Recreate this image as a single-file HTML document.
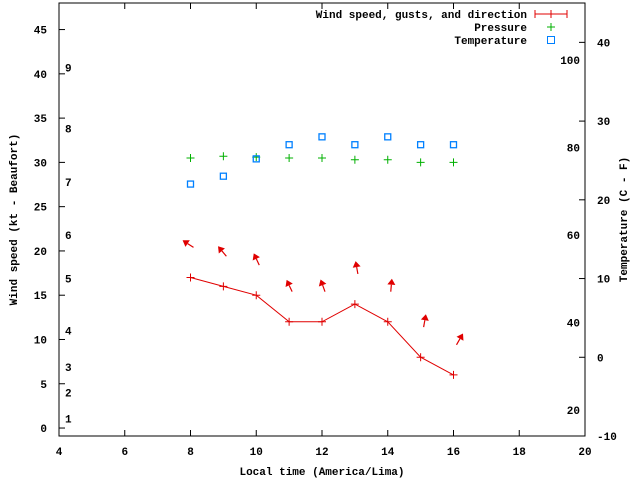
<!DOCTYPE html>
<html><head><meta charset="utf-8"><style>
body{margin:0;background:#fff}
text{font-family:"Liberation Mono",monospace;font-size:11px;font-weight:bold;fill:#000}
</style></head><body>
<svg id="chart" width="640" height="480" xmlns="http://www.w3.org/2000/svg"></svg>
<script>
const hours=[8,9,10,11,12,13,14,15,16];
const windSpeed=[17,16,15,12,12,14,12,8,6];
const pressure=[30.5,30.7,30.6,30.5,30.5,30.3,30.3,30.0,30.0];
const temperature=[22,23,25.2,27,28,27,28,27,27];
const windDir=[303,320,335,335,340,350,5,10,30];
const xTicks=[4,6,8,10,12,14,16,18,20];
const yTicks=[0,5,10,15,20,25,30,35,40,45];
const tTicks=[-10,0,10,20,30,40];
const beaufort=[[1,1.1],[2,4],[3,6.9],[4,11],[5,16.9],[6,21.8],[7,27.8],[8,33.8],[9,40.7]];
const fahr=[100,80,60,40,20];
const L=59,R=585,T=3,B=436;
const X=v=>L+(v-4)*(R-L)/16;
const Y=v=>B-(v+0.9)*(B-T)/48.9;
const TY=v=>B-(v+10)*(B-T)/55;
const svg=document.getElementById('chart');
const NS='http://www.w3.org/2000/svg';
function mk(tag,attrs,parent){const e=document.createElementNS(NS,tag);for(const k in attrs)e.setAttribute(k,attrs[k]);(parent||svg).appendChild(e);return e;}
function txt(s,x,y,anchor,name){const t=mk('text',{x:x,y:y,'text-anchor':anchor||'middle'});t.textContent=s;

return t;}
const frame=mk('rect',{x:L,y:T,width:R-L,height:B-T,fill:'none',stroke:'#000'});


xTicks.forEach(v=>{const x=X(v);
const tk=mk('path',{d:`M${x},${B}v-6M${x},${T}v6`,stroke:'#000'});


txt(String(v),x,B+19,'middle','x-tick-label');});
yTicks.forEach(v=>{const y=Y(v);
const tk=mk('path',{d:`M${L},${y}h6`,stroke:'#000'});


txt(String(v),L-12,y+4,'end','y-tick-label');});
tTicks.forEach(v=>{const y=TY(v);
const tk=mk('path',{d:`M${R},${y}h-6`,stroke:'#000'});


txt(String(v),R+12,y+4,'start','temp-tick-label');});
beaufort.forEach(b=>txt(String(b[0]),65,Y(b[1])+4,'start','beaufort-label'));
fahr.forEach(f=>txt(String(f),580,TY((f-32)*5/9)+4,'end','fahrenheit-label'));
txt('Local time (America/Lima)',(L+R)/2,475,'middle','x-axis-title');
const yt=txt('Wind speed (kt - Beaufort)',0,0,'middle','y-axis-title');yt.setAttribute('transform',`translate(17,${(T+B)/2}) rotate(-90)`);
const tt=txt('Temperature (C - F)',0,0,'middle','temp-axis-title');tt.setAttribute('transform',`translate(627,${(T+B)/2}) rotate(-90)`);
// legend
txt('Wind speed, gusts, and direction',527,18,'end','legend-wind-label');
const lw=mk('path',{d:'M535,14h32M535,10v8M551,10v8M567,10v8',stroke:'#e00000'});


txt('Pressure',527,31,'end','legend-pressure-label');
const lp=mk('path',{d:'M551,23v8M547,27h8',stroke:'#00b000'});


txt('Temperature',527,44,'end','legend-temperature-label');
const lt=mk('rect',{x:547.5,y:36.5,width:7,height:7,fill:'none',stroke:'#0080ff'});


// wind line
const wl=mk('polyline',{points:hours.map((h,i)=>X(h)+','+Y(windSpeed[i])).join(' '),fill:'none',stroke:'#e00000'});


hours.forEach((h,i)=>{const x=X(h),y=Y(windSpeed[i]);
const p=mk('path',{d:`M${x-4},${y}h8M${x},${y-4}v8`,stroke:'#e00000'});


const tx=x+3,ty=Y(windSpeed[i]+3.4);const a=windDir[i]*Math.PI/180;
const hx=tx+13*Math.sin(a),hy=ty-13*Math.cos(a);
const ux=Math.sin(a),uy=-Math.cos(a);
const bx=hx-6*ux,by=hy-6*uy;
const g=mk('g',{});


mk('line',{x1:tx,y1:ty,x2:bx,y2:by,stroke:'#e00000','stroke-width':1.2},g);
mk('polygon',{points:`${hx},${hy} ${bx-4*uy},${by+4*ux} ${bx+4*uy},${by-4*ux}`,fill:'#e00000'},g);
const px=X(h),py=Y(pressure[i]);
const pp=mk('path',{d:`M${px-4},${py}h8M${px},${py-4}v8`,stroke:'#00b000'});


const r=mk('rect',{x:X(h)-3,y:TY(temperature[i])-3,width:6,height:6,fill:'none',stroke:'#0080ff','stroke-width':1.3});


});
</script>
</body></html>
